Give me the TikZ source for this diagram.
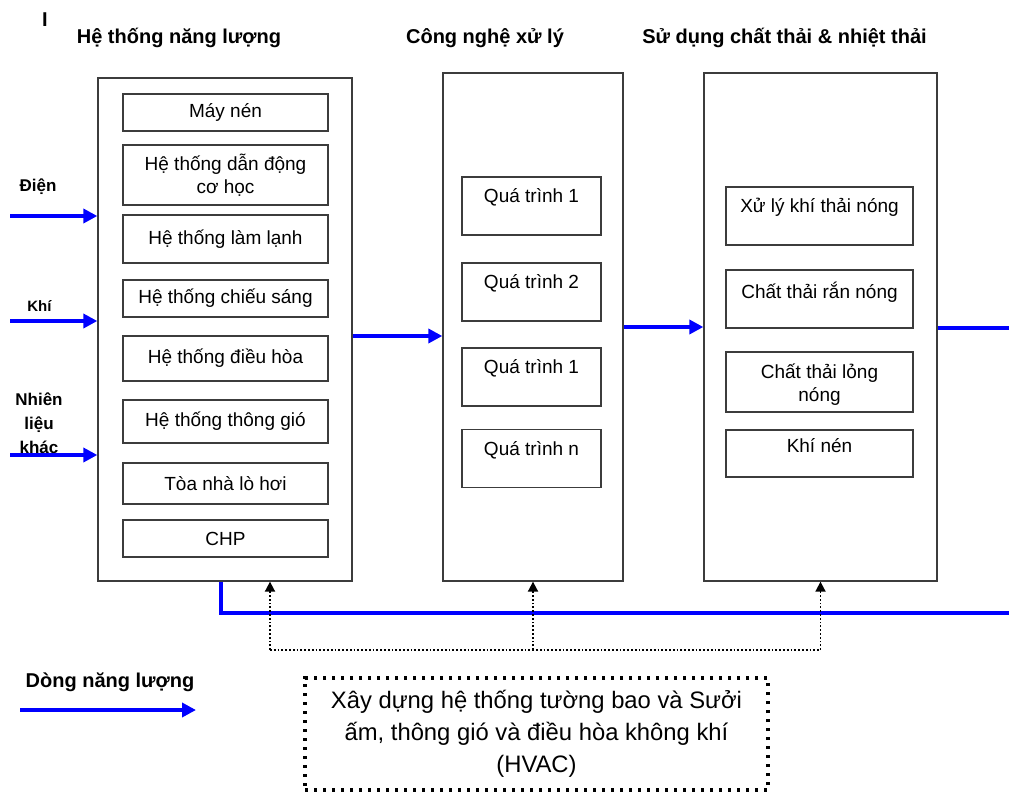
\documentclass[tikz,border=0pt]{standalone}
\usepackage{fontspec}
\setmainfont{Liberation Sans}
\usetikzlibrary{arrows.meta,positioning}
\definecolor{flowblue}{RGB}{0,0,255}
\definecolor{boxgray}{RGB}{60,60,60}
\newcommand{\bodyfont}{\fontsize{19}{23.5}\selectfont}
\newcommand{\headfont}{\fontsize{20}{24}\selectfont\bfseries}
\newcommand{\sidefont}{\fontsize{17}{24}\selectfont\bfseries}
\newcommand{\hvacfont}{\fontsize{23.8}{32}\selectfont}

\begin{document}
\begin{tikzpicture}[
    x=1pt, y=-1pt,
    frame/.style={draw=boxgray, line width=1.3pt, inner sep=0pt},
    sysbox/.style={frame, minimum width=205pt, align=center, font=\bodyfont},
    procbox/.style={frame, minimum width=139pt, minimum height=58pt},
    wastebox/.style={frame, minimum width=187pt, minimum height=58pt},
    toptext/.style={inner sep=0pt, align=center, font=\bodyfont},
    head/.style={font=\headfont, anchor=base},
    side/.style={font=\sidefont, align=center},
    flowline/.style={draw=flowblue, line width=4pt},
    flow/.style={flowline, -{Triangle[length=14pt,width=14pt]}},
    dotline/.style={draw=black, line width=1.8pt, dash pattern=on 1.8pt off 2pt},
    dotarrow/.style={dotline, -{Triangle[length=10pt,width=10pt]}},
    hvacbox/.style={draw=black, line width=3.3pt, dash pattern=on 3.3pt off 5.7pt, align=center, font=\hvacfont}
  ]
    \useasboundingbox (0,0) rectangle (1009,793);
    \node[font=\headfont] (cursor) at (45,20) {I};
    % column headings
    \node[head] (hEnergy) at (179,43) {Hệ thống năng lượng};
    \node[head] (hProc) at (485,43) {Công nghệ xử lý};
    \node[head] (hWaste) at (784.5,43) {Sử dụng chất thải \& nhiệt thải};
    % outer columns
    \node[frame, minimum width=254pt, minimum height=503pt] (box1) at (225,329.5) {};
    \node[frame, minimum width=180pt, minimum height=508pt] (box2) at (533,327) {};
    \node[frame, minimum width=233pt, minimum height=508pt] (box3) at (820.5,327) {};
    % energy systems
    \node[sysbox, minimum height=37pt] (compr) at (225.5,112.5) {Máy nén};
    \node[sysbox, minimum height=60pt] (drive) at (225.5,175) {Hệ thống dẫn động\\cơ học};
    \node[sysbox, minimum height=48pt] (cool) at (225.5,239) {Hệ thống làm lạnh};
    \node[sysbox, minimum height=37pt] (light) at (225.5,298.5) {Hệ thống chiếu sáng};
    \node[sysbox, minimum height=45pt] (aircon) at (225.5,358.5) {Hệ thống điều hòa};
    \node[sysbox, minimum height=43pt] (vent) at (225.5,421.5) {Hệ thống thông gió};
    \node[sysbox, minimum height=41pt] (boiler) at (225.5,483.5) {Tòa nhà lò hơi};
    \node[sysbox, minimum height=37pt] (chp) at (225.5,538.5) {CHP};
    % processes
    \node[procbox] (proc1) at (531.5,206) {};
    \node[procbox] (proc2) at (531.5,292) {};
    \node[procbox] (proc3) at (531.5,377) {};
    \node[procbox] (procn) at (531.5,458.5) {};
    \node[toptext, below=12pt of proc1.north] (proc1t) {Quá trình 1};
    \node[toptext, below=12pt of proc2.north] (proc2t) {Quá trình 2};
    \node[toptext, below=12pt of proc3.north] (proc3t) {Quá trình 1};
    \node[toptext, below=12pt of procn.north] (procnt) {Quá trình n};
    % waste heat
    \node[wastebox] (gas) at (819.5,216) {};
    \node[wastebox] (solid) at (819.5,299) {};
    \node[wastebox, minimum height=60pt] (liquid) at (819.5,382) {};
    \node[wastebox, minimum height=47pt] (air) at (819.5,453.5) {};
    \node[toptext, below=12pt of gas.north] (gast) {Xử lý khí thải nóng};
    \node[toptext, below=12pt of solid.north] (solidt) {Chất thải rắn nóng};
    \node[toptext, below=12pt of liquid.north] (liquidt) {Chất thải lỏng\\nóng};
    \node[toptext, below=9pt of air.north] (airt) {Khí nén};
    % inputs
    \node[side] (lElec) at (38,187) {Điện};
    \node[side, font=\fontsize{15}{20}\selectfont\bfseries] (lGas) at (39.5,306) {Khí};
    \node[side] (lFuel) at (39,423) {Nhiên\\liệu\\khác};
    \coordinate (inE) at (10,216);
    \coordinate (inK) at (10,321);
    \coordinate (inN) at (10,455);
    \draw[flow] (inE) -- (inE -| box1.west);
    \draw[flow] (inK) -- (inK -| box1.west);
    \draw[flow] (inN) -- (inN -| box1.west);
    % energy flows
    \draw[flow] ([yshift=-6.5pt]box1.east) -- ([yshift=-6.5pt]box1.east -| box2.west);
    \draw[flow] (box2.east) -- (box2.east -| box3.west);
    \coordinate (outR) at (1009,328);
    \draw[flowline] (box3.east |- outR) -- (outR);
    \coordinate (busW) at (221,613);
    \coordinate (busE) at (1009,613);
    \draw[flowline] (busW |- box1.south) -- (busW) -- (busE);
    % HVAC supply
    \coordinate (hvL) at (270,650);
    \coordinate (hvR) at (box3.south |- hvL);
    \draw[dotline] (hvL) -- (hvR);
    \draw[dotarrow] (hvL) -- (hvL |- box1.south);
    \draw[dotarrow] (box2.south |- hvL) -- (box2.south);
    \draw[dotarrow] (hvR) -- (box3.south);
    \node[hvacbox, minimum width=463pt, minimum height=112pt] (hvac) at (536.5,734) {Xây dựng hệ thống tường bao và Sưởi\\ấm, thông gió và điều hòa không khí\\(HVAC)};
    % legend
    \node[font=\headfont] (legText) at (110,682) {Dòng năng lượng};
    \coordinate (legA) at (20,710);
    \coordinate (legB) at (196,710);
    \draw[flow] (legA) -- (legB);
  \end{tikzpicture}
\end{document}
